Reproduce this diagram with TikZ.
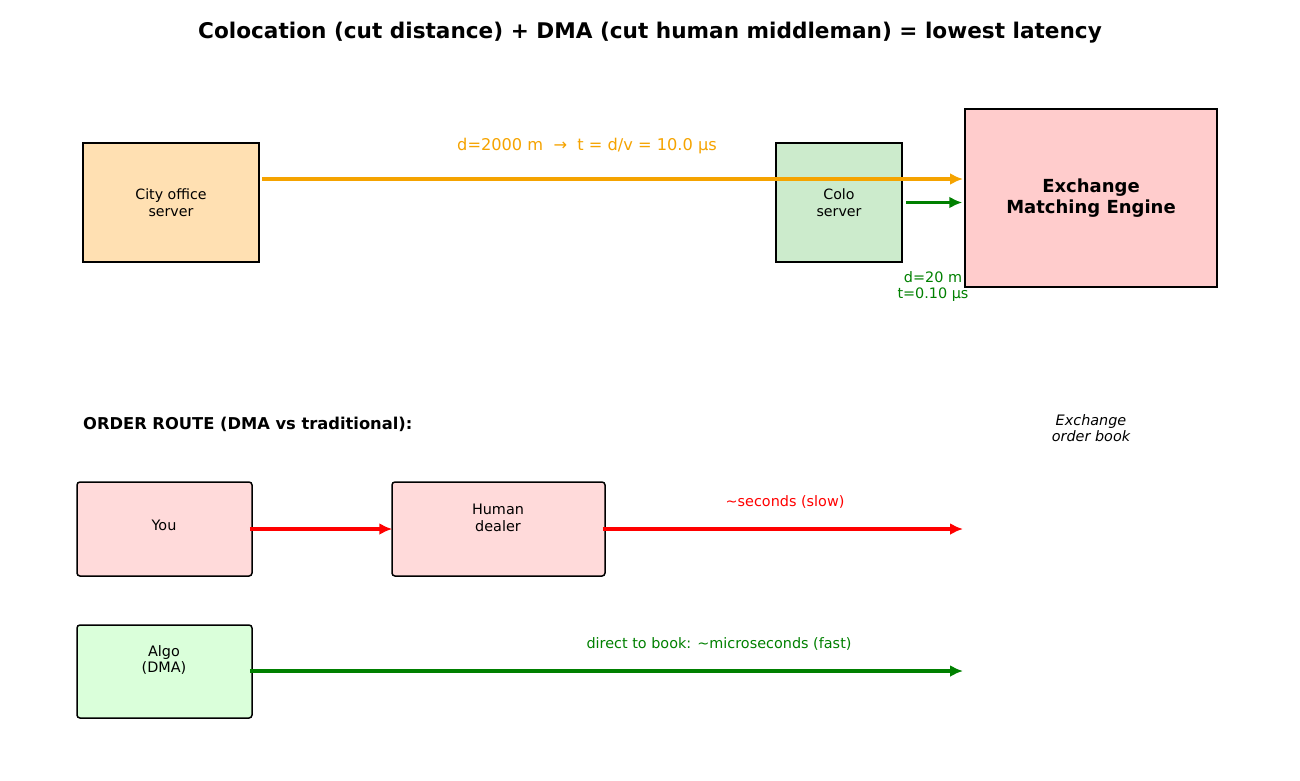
\documentclass[tikz,border=0pt]{standalone}
\usepackage{fontspec}
\setmainfont{DejaVu Sans}
\usetikzlibrary{arrows.meta}
\definecolor{cityfill}{HTML}{FFE0B2}
\definecolor{colofill}{HTML}{CCEBCC}
\definecolor{exchfill}{HTML}{FFCCCC}
\definecolor{redfill}{HTML}{FFDADA}
\definecolor{greenfill}{HTML}{DAFFDA}
\definecolor{morange}{HTML}{F5A300}
\definecolor{mgreen}{HTML}{008000}
\definecolor{mred}{HTML}{FF0000}
\newcommand{\fs}[1]{\fontsize{#1}{1.16\dimexpr#1pt\relax}\selectfont}
\tikzset{
  sqbox/.style={draw=black, line width=1.5pt, inner sep=0pt, align=center},
  rbox/.style={draw=black, line width=1.5pt, inner sep=0pt, rounded corners=3pt},
  txt/.style={inner sep=0pt, align=center, font=\fs{14.4}},
  arr/.style={line width=3.2pt, -{Latex[length=13pt,width=12pt]}},
}
\begin{document}
\begin{tikzpicture}[x=1pt,y=-1pt]
\useasboundingbox (0,0) rectangle (1300,780);
% title
\node[inner sep=0pt, font=\fs{21.6}\bfseries] (title) at (650,33) {Colocation (cut distance) + DMA (cut human middleman) = lowest latency};

% top section
\node[sqbox, fill=cityfill, minimum width=176pt, minimum height=119pt, font=\fs{14.2}] (city) at (171,202.5) {City office\\server};
\node[sqbox, fill=colofill, minimum width=126pt, minimum height=119pt, font=\fs{14.2}] (colo) at (839,202.5) {Colo\\server};
\node[sqbox, fill=exchfill, minimum width=252pt, minimum height=178pt, font=\fs{18}\bfseries] (exch) at (1091,198) {Exchange\\Matching Engine};

\coordinate (o1) at (262,179);
\coordinate (o2) at (963,179);
\draw[arr, morange] (o1) -- (o2);
\node[txt, font=\fs{16.2}, text=morange] (dlabel) at (587,146) {d=2000 m \ → \ t = d/v = 10.0 µs};

\draw[arr, mgreen, shorten <=3pt, shorten >=2pt] (colo.east) -- (exch.west |- colo.east);
\node[txt, text=mgreen] (dlabel2) at (933,286.5) {d=20 m\\t=0.10 µs};

% bottom section
\node[anchor=west, inner sep=0pt, font=\fs{16.3}\bfseries] (route) at (83,424) {ORDER ROUTE (DMA vs traditional):};
\node[txt, font=\fs{14.4}\itshape] (book) at (1091,428) {Exchange\\order book};

\node[rbox, fill=redfill, minimum width=175pt, minimum height=94pt] (you) at (164.5,529) {};
\node[txt] (youtxt) at (164,525) {You};
\node[rbox, fill=redfill, minimum width=213pt, minimum height=94pt] (human) at (498.5,529) {};
\node[txt] (humantxt) at (498,518) {Human\\dealer};
\node[rbox, fill=greenfill, minimum width=175pt, minimum height=93pt] (algo) at (164.5,671.5) {};
\node[txt] (algotxt) at (164,660) {Algo\\(DMA)};

\coordinate (b1) at (963,529);
\coordinate (b2) at (963,671);
\draw[arr, mred, shorten <=-3pt, shorten >=-1pt] (you.east) -- (human.west);
\draw[arr, mred, shorten <=-3pt] (human.east) -- (b1);
\node[txt, text=mred] (slow) at (785,502) {\textasciitilde seconds (slow)};
\draw[arr, mgreen, shorten <=-3pt] (algo.east |- b2) -- (b2);
\node[txt, text=mgreen] (fast) at (719,644) {direct to book: \textasciitilde microseconds (fast)};
\end{tikzpicture}
\end{document}
